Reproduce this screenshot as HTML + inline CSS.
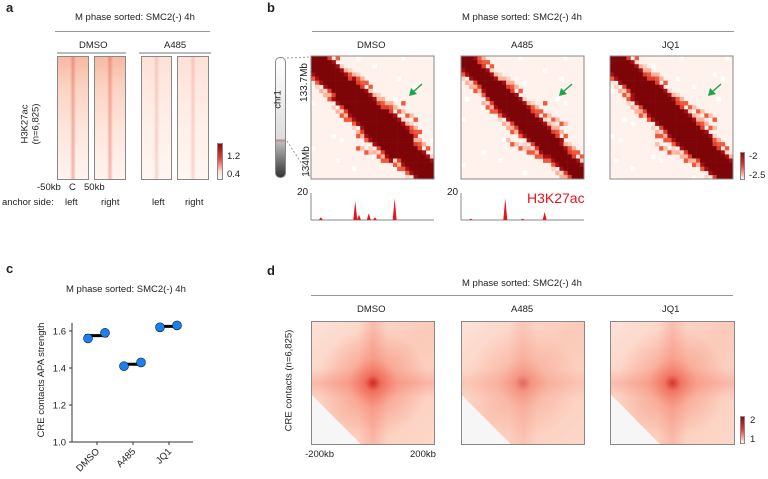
<!DOCTYPE html>
<html><head><meta charset="utf-8">
<style>
body{margin:0;background:#fff;}
#root{position:relative;width:768px;height:479px;overflow:hidden;font-family:"Liberation Sans",Arial,sans-serif;color:#222;}
.t{position:absolute;font-size:9.5px;white-space:nowrap;}
.pl{position:absolute;font-weight:bold;font-size:13px;}
.ln{position:absolute;height:1px;background:#999;}
.box{position:absolute;border:1px solid #888;box-sizing:border-box;}
</style></head><body>
<div id="root">
<!-- Panel a -->
<div class="pl" style="left:6px;top:0px">a</div>
<div class="t" style="left:75px;top:12px">M phase sorted: SMC2(-) 4h</div>
<div class="ln" style="left:55px;top:31px;width:155px"></div>
<div class="t" style="left:79px;top:40px">DMSO</div>
<div class="ln" style="left:57px;top:52px;width:69px;height:2px;background:#bbb"></div>
<div class="t" style="left:164px;top:40px">A485</div>
<div class="ln" style="left:139px;top:52px;width:72px;height:2px;background:#bbb"></div>
<div class="box" style="left:57px;top:56px;width:32px;height:124px;background:linear-gradient(90deg,rgba(255,255,255,0) 40%,rgba(220,60,40,.35) 50%,rgba(255,255,255,0) 60%),linear-gradient(180deg,#f7b9a3 0%,#fbd3c3 25%,#fde6dc 60%,#fff4ef 100%)"></div>
<div class="box" style="left:94px;top:56px;width:32px;height:124px;background:linear-gradient(90deg,rgba(255,255,255,0) 40%,rgba(220,60,40,.35) 50%,rgba(255,255,255,0) 60%),linear-gradient(180deg,#f7b9a3 0%,#fbd3c3 25%,#fde6dc 60%,#fff4ef 100%)"></div>
<div class="box" style="left:141px;top:56px;width:31px;height:124px;background:linear-gradient(90deg,rgba(255,255,255,0) 40%,rgba(220,60,40,.18) 50%,rgba(255,255,255,0) 60%),linear-gradient(180deg,#fde1d6 0%,#feece5 40%,#fff6f2 100%)"></div>
<div class="box" style="left:177px;top:56px;width:32px;height:124px;background:linear-gradient(90deg,rgba(255,255,255,0) 40%,rgba(220,60,40,.18) 50%,rgba(255,255,255,0) 60%),linear-gradient(180deg,#fde1d6 0%,#feece5 40%,#fff6f2 100%)"></div>
<div class="box" style="left:217px;top:143px;width:6px;height:37px;background:linear-gradient(180deg,#8b0a0a,#e0403a 40%,#fde0d6 80%,#fff5f0)"></div>
<div class="t" style="left:227px;top:151px">1.2</div>
<div class="t" style="left:227px;top:169px">0.4</div>
<div class="t" style="left:10px;top:113px;transform:rotate(-90deg);transform-origin:center;text-align:center;line-height:11px">H3K27ac<br>(n=6,825)</div>
<div class="t" style="left:37px;top:182px">-50kb</div>
<div class="t" style="left:69px;top:182px">C</div>
<div class="t" style="left:84px;top:182px">50kb</div>
<div class="t" style="left:2px;top:197px">anchor side:</div>
<div class="t" style="left:65px;top:197px">left</div>
<div class="t" style="left:101px;top:197px">right</div>
<div class="t" style="left:152px;top:197px">left</div>
<div class="t" style="left:185px;top:197px">right</div>

<!-- Panel b -->
<div class="pl" style="left:267px;top:0px">b</div>
<div class="t" style="left:462px;top:12px">M phase sorted: SMC2(-) 4h</div>
<div class="ln" style="left:312px;top:31px;width:422px"></div>
<div class="t" style="left:357px;top:40px">DMSO</div>
<div class="t" style="left:511px;top:40px">A485</div>
<div class="t" style="left:662px;top:40px">JQ1</div>
<div style="position:absolute;left:275px;top:57px;width:11px;height:121px;border-radius:5px;border:1px solid #888;box-sizing:border-box;background:linear-gradient(180deg,#fff 0%,#ddd 68%,#b88 69%,#bbb 71%,#333 100%)"></div>
<div class="t" style="left:269px;top:94px;transform:rotate(-90deg)">chr1</div>
<div class="t" style="left:285px;top:77px;transform:rotate(-90deg);font-size:10px">133.7Mb</div>
<div class="t" style="left:291px;top:156px;transform:rotate(-90deg);font-size:10px">134Mb</div>
<svg style="position:absolute;left:0;top:0" width="768" height="479">
<line x1="287" y1="58" x2="311" y2="57" stroke="#999" stroke-dasharray="2,2"/>
<line x1="287" y1="141" x2="311" y2="178" stroke="#999" stroke-dasharray="2,2"/>
<g id="hic"></g>
<g id="tracks"></g>
</svg>
<div class="box" style="left:740px;top:152px;width:5px;height:28px;background:linear-gradient(180deg,#8b0a0a,#e0403a 50%,#fff5f0)"></div>
<div class="t" style="left:749px;top:151px">-2</div>
<div class="t" style="left:749px;top:170px">-2.5</div>
<div class="t" style="left:297px;top:187px;font-size:10px">20</div>
<div class="t" style="left:447px;top:187px;font-size:10px">20</div>
<div class="t" style="left:527px;top:190px;font-size:14px;color:#e8141c">H3K27ac</div>

<!-- Panel c -->
<div class="pl" style="left:6px;top:261px">c</div>
<div class="t" style="left:66px;top:284px">M phase sorted: SMC2(-) 4h</div>
<svg style="position:absolute;left:0;top:0" width="260" height="479" id="csvg"></svg>

<!-- Panel d -->
<div class="pl" style="left:267px;top:263px">d</div>
<div class="t" style="left:462px;top:278px">M phase sorted: SMC2(-) 4h</div>
<div class="ln" style="left:311px;top:295px;width:422px"></div>
<div class="t" style="left:357px;top:304px">DMSO</div>
<div class="t" style="left:511px;top:304px">A485</div>
<div class="t" style="left:662px;top:304px">JQ1</div>
<div id="apa-dmso" class="box" style="left:311px;top:321px;width:124px;height:124px"></div>
<div id="apa-a485" class="box" style="left:461px;top:321px;width:124px;height:124px"></div>
<div id="apa-jq1" class="box" style="left:610px;top:321px;width:125px;height:124px"></div>
<div class="box" style="left:740px;top:416px;width:5px;height:28px;background:linear-gradient(180deg,#8b0a0a,#e0403a 50%,#fff5f0)"></div>
<div class="t" style="left:750px;top:415px">2</div>
<div class="t" style="left:750px;top:434px">1</div>
<div class="t" style="left:305px;top:449px">-200kb</div>
<div class="t" style="left:410px;top:449px">200kb</div>
<div class="t" style="left:238px;top:375px;transform:rotate(-90deg)">CRE contacts (n=6,825)</div>
</div>
<script>
// Panel c data
const categories=["DMSO","A485","JQ1"];
const rep1=[1.56,1.41,1.62];
const rep2=[1.59,1.43,1.63];
const yTicks=[1.0,1.2,1.4,1.6];
// Panel d APA strength (center intensity)
const apaConds=["dmso","a485","jq1"];
const apaCenter=[1.0,0.55,0.9];
// Panel b H3K27ac peaks (relative position, height)
const dmsoPeakPos=[0.08,0.36,0.39,0.47,0.52,0.68];
const dmsoPeakH=[2,14,4,5,2,16];
const a485PeakPos=[0.08,0.36,0.5,0.68];
const a485PeakH=[1,16,1,6];

const NS="http://www.w3.org/2000/svg";
function mk(tag,at,parent){const e=document.createElementNS(NS,tag);for(const k in at)e.setAttribute(k,at[k]);parent.appendChild(e);return e;}
// Panel c
const cs=document.getElementById('csvg');
const y0=442,yPer=37/0.2;
const ys=v=>y0-(v-1.0)*yPer;
const xs=i=>97+i*36;
let ax=mk('line',{x1:72,y1:323,x2:72,y2:442,stroke:'#333'},cs);


let axx=mk('line',{x1:72,y1:442,x2:193,y2:442,stroke:'#333'},cs);


yTicks.forEach(v=>{
  const t=mk('line',{x1:69,y1:ys(v),x2:72,y2:ys(v),stroke:'#333'},cs);
  
  
  const l=mk('text',{x:66,y:ys(v)+3.5,'text-anchor':'end','font-size':'9.5','font-family':'Liberation Sans, sans-serif',fill:'#222'},cs);
  l.textContent=v.toFixed(1);
  
  
});
const yl=mk('text',{x:0,y:0,transform:'translate(44,380) rotate(-90)','text-anchor':'middle','font-size':'9.5','font-family':'Liberation Sans, sans-serif',fill:'#222'},cs);
yl.textContent='CRE contacts APA strength';


categories.forEach((c,i)=>{
  const x=xs(i);
  const t=mk('line',{x1:x,y1:442,x2:x,y2:445,stroke:'#333'},cs);
  
  
  const l=mk('text',{x:0,y:0,transform:`translate(${x+3},${452}) rotate(-45)`,'text-anchor':'end','font-size':'9.5','font-family':'Liberation Sans, sans-serif',fill:'#222'},cs);
  l.textContent=c;
  
  
  const m=(rep1[i]+rep2[i])/2;
  const b=mk('line',{x1:x-12,y1:ys(m),x2:x+11,y2:ys(m),stroke:'#000','stroke-width':3},cs);
  
  
  const p1=mk('circle',{cx:x-9,cy:ys(rep1[i]),r:4.5,fill:'#1a7ff0',stroke:'#123','stroke-width':0.6},cs);
  
  
  const p2=mk('circle',{cx:x+8,cy:ys(rep2[i]),r:4.5,fill:'#1a7ff0',stroke:'#123','stroke-width':0.6},cs);
  
  
});
// Panel b Hi-C maps (image-like)
const hic=document.getElementById('hic');
const maps=[{x:311,w:[3,4,5,3],loop:1},{x:461,w:[2,3,3,2],loop:0.6},{x:610,w:[3,4,4,3],loop:0.8}];
const N=30,cell=123/N;
maps.forEach((mp,mi)=>{
  const g=mk('g',{},hic);
  
  
  mk('rect',{x:mp.x,y:56,width:123,height:123,fill:'#fff1eb'},g);
  for(let i=0;i<N;i++)for(let j=0;j<N;j++){
    const d=Math.abs(i-j);const mid=mp.w[Math.min(3,Math.floor((i+j)/15))];
    const h=(i*7+j*13+mi*5)%11;
    let col=null;
    if(d<=mid)col='#7d0508';
    else if(d===mid+1)col=h<7?'#a50f15':'#e0402e';
    else if(d<=mid+3)col=h<3?'#ef5a3f':(h<6?'#fbb39c':(h<8?'#fdd3c3':null));
    else if(d<=mid+6&&i>10&&i<24&&j>10&&j<26&&h<4*mp.loop)col=h<2?'#ef5a3f':'#fcc0aa';
    else if(h===0&&(i*j)%5===0)col='#fff';
    if(col)mk('rect',{x:mp.x+j*cell,y:56+i*cell,width:cell+0.3,height:cell+0.3,fill:col},g);
  }
  mk('rect',{x:mp.x,y:56,width:123,height:123,fill:'none',stroke:'#888'},g);
  const ar=mk('path',{d:`M${mp.x+111},${84} L${mp.x+102},${92}`,stroke:'#1aa84a','stroke-width':1.5},g);
  
  
  mk('polygon',{points:`${mp.x+98},${96} ${mp.x+100},${88} ${mp.x+106},${94}`,fill:'#1aa84a'},g);
});
// tracks
const tr=document.getElementById('tracks');
[[311,dmsoPeakPos,dmsoPeakH,'dmso'],[461,a485PeakPos,a485PeakH,'a485']].forEach(([x0,pos,hh,nm])=>{
  const g=mk('g',{},tr);
  
  
  mk('line',{x1:x0,y1:193,x2:x0,y2:220,stroke:'#888'},g);
  mk('line',{x1:x0,y1:220,x2:x0+123,y2:220,stroke:'#888'},g);
  pos.forEach((p,k)=>{
    const px=x0+p*123,h=hh[k]*27/20;
    const pk=mk('path',{d:`M${px-2},220 L${px},${220-h} L${px+2},220Z`,fill:'#e8141c'},g);
    
    
  });
});
// Panel d APA backgrounds
apaConds.forEach((c,i)=>{
  const el=document.getElementById('apa-'+c);const s=apaCenter[i];
  el.style.background=`linear-gradient(45deg,#f6f6f6 20%,transparent 20%),
   radial-gradient(circle at 50% 50%,rgba(200,20,20,${0.85*s}) 0px,rgba(235,70,50,${0.6*s}) 8px,rgba(245,110,90,${0.35*s}) 25px,rgba(255,255,255,0) 55px),
   linear-gradient(90deg,rgba(255,255,255,0) 38%,rgba(240,100,80,${0.25*s}) 50%,rgba(255,255,255,0) 62%),
   linear-gradient(180deg,rgba(255,255,255,0) 38%,rgba(240,100,80,${0.25*s}) 50%,rgba(255,255,255,0) 62%),
   linear-gradient(135deg,#fde2d7,#fbcab8 50%,#fdd8ca)`;
});
</script>
</body></html>
